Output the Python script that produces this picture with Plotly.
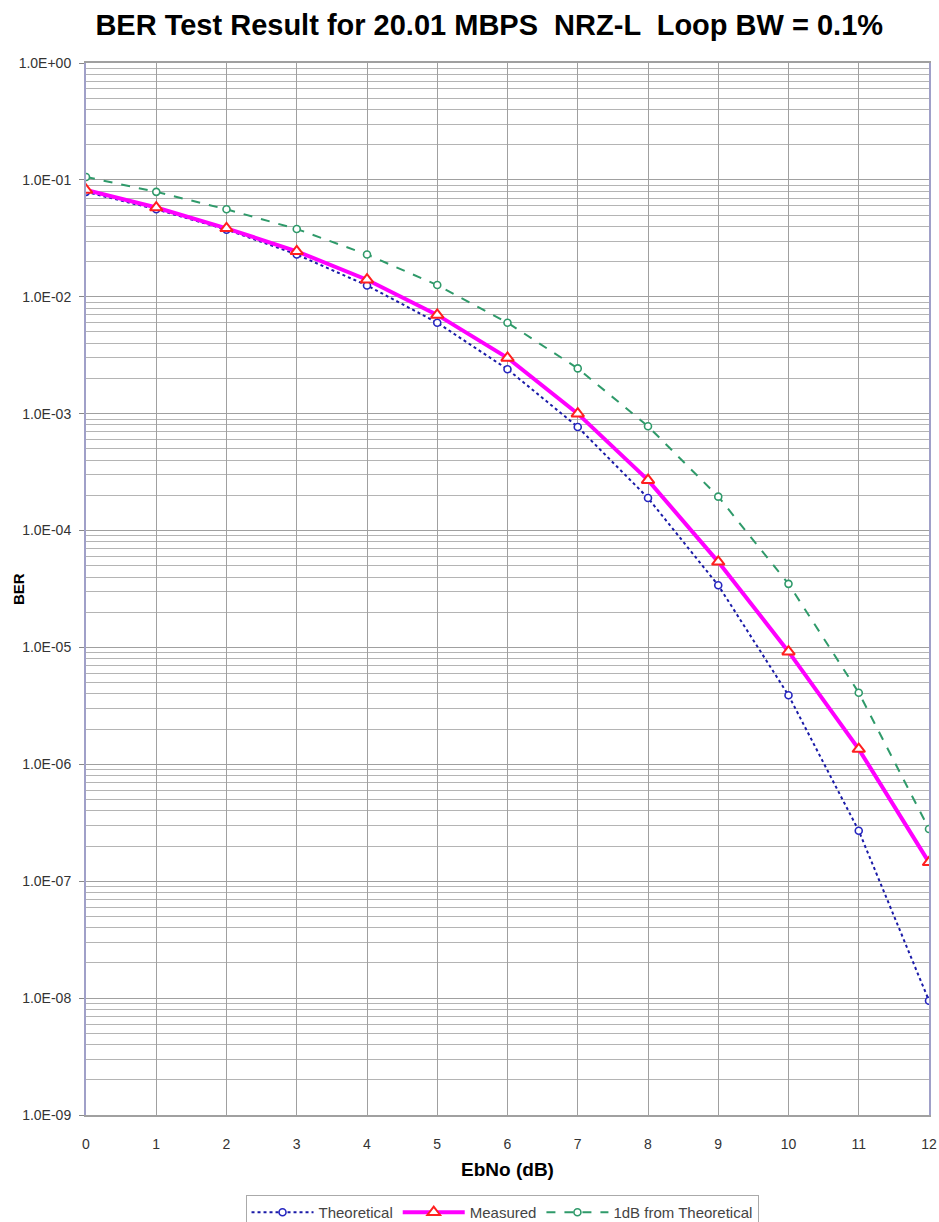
import plotly.graph_objects as go

ebno = [0, 1, 2, 3, 4, 5, 6, 7, 8, 9, 10, 11, 12]
theoretical = [7.9e-2, 5.6e-2, 3.75e-2, 2.3e-2, 1.25e-2, 6.0e-3, 2.4e-3, 7.7e-4, 1.9e-4, 3.4e-5, 3.9e-6, 2.7e-7, 9.5e-9]
measured = [8.2e-2, 5.8e-2, 3.85e-2, 2.45e-2, 1.4e-2, 7.0e-3, 3.0e-3, 1.0e-3, 2.7e-4, 5.4e-5, 9.2e-6, 1.35e-6, 1.45e-7]
one_db = [1.06e-1, 7.9e-2, 5.6e-2, 3.8e-2, 2.3e-2, 1.26e-2, 6.0e-3, 2.44e-3, 7.8e-4, 1.95e-4, 3.5e-5, 4.1e-6, 2.8e-7]

y_tick_vals = [1e0, 1e-1, 1e-2, 1e-3, 1e-4, 1e-5, 1e-6, 1e-7, 1e-8, 1e-9]
y_tick_text = ["1.0E+00", "1.0E-01", "1.0E-02", "1.0E-03", "1.0E-04",
               "1.0E-05", "1.0E-06", "1.0E-07", "1.0E-08", "1.0E-09"]
minor_vals = [m * d for d in y_tick_vals[1:] for m in range(2, 10)]

FONT = "Liberation Sans, Arial, sans-serif"

fig = go.Figure()
fig.add_trace(go.Scatter(
    x=ebno, y=theoretical, name="Theoretical", mode="lines+markers",
    line=dict(color="#1a1aa8", width=2, dash="dot"),
    marker=dict(symbol="circle", size=7, color="white", line=dict(width=1.6, color="#2626c0")),
))
fig.add_trace(go.Scatter(
    x=ebno, y=measured, name="Measured", mode="lines+markers",
    line=dict(color="#ff00ff", width=4),
    marker=dict(symbol="triangle-up", size=11, color="white", line=dict(width=2, color="#ff2020")),
))
fig.add_trace(go.Scatter(
    x=ebno, y=one_db, name="1dB from Theoretical", mode="lines+markers",
    line=dict(color="#2f9a6a", width=2, dash="dash"),
    marker=dict(symbol="circle", size=7, color="white", line=dict(width=1.6, color="#2f9a6a")),
))

fig.update_layout(
    width=939, height=1222,
    margin=dict(l=86, r=10, t=63, b=107, autoexpand=False),
    paper_bgcolor="white", plot_bgcolor="white",
    font=dict(family=FONT, color="#333333", size=12),
    title=dict(text="<b>BER Test Result for 20.01 MBPS  NRZ-L  Loop BW = 0.1%</b>",
               x=0.521, xanchor="center", y=0.980, yanchor="middle",
               font=dict(family=FONT, size=29, color="black")),
    showlegend=True,
    legend=dict(orientation="h", x=0.4935, xanchor="center", y=-0.076, yanchor="top",
                bordercolor="#aaaaaa", borderwidth=1, bgcolor="white",
                font=dict(family=FONT, size=15, color="#444444"),
                itemwidth=62, tracegroupgap=0, itemclick=False),
    annotations=[dict(text="<b>BER</b>", xref="paper", yref="paper",
                      x=-0.0807, y=0.5, xanchor="center", yanchor="middle",
                      textangle=-90, showarrow=False,
                      font=dict(family=FONT, size=15, color="black"))],
)

fig.update_xaxes(
    range=[0, 12], dtick=1, tick0=0,
    showgrid=True, gridcolor="#a0a0a0", gridwidth=1,
    showline=True, linecolor="#a0a0a0", linewidth=2, mirror=True,
    ticks="", zeroline=False, ticklabeloverflow="allow", ticklabelstandoff=15,
    tickfont=dict(family=FONT, size=14, color="#333333"),
    title=dict(text="<b>EbNo (dB)</b>", font=dict(family=FONT, size=19, color="black"), standoff=12),
)
fig.update_yaxes(
    type="log", range=[-9, 0],
    tickvals=y_tick_vals, ticktext=y_tick_text,
    showgrid=True, gridcolor="#a0a0a0", gridwidth=1,
    minor=dict(tickvals=minor_vals, showgrid=True, gridcolor="#b4b4b4", gridwidth=1, ticks=""),
    showline=True, linecolor="#a0a0c8", linewidth=2, mirror=True,
    ticks="outside", ticklen=5, tickcolor="#888888", ticklabelstandoff=5,
    zeroline=False,
    tickfont=dict(family=FONT, size=14, color="#333333"),
)

fig.write_html("out.html", config={"displayModeBar": False},
               post_script="document.body.style.margin='0';document.body.style.overflow='hidden';")
